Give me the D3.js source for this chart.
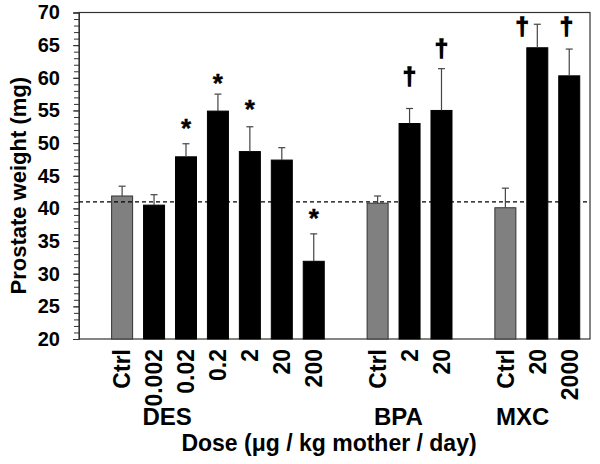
<!DOCTYPE html>
<html>
<head>
<meta charset="utf-8">
<script src="https://cdn.jsdelivr.net/npm/d3@7"></script>
<style>
  html, body { margin: 0; padding: 0; background: #fff; }
  svg { display: block; font-family: "Liberation Sans", Arial, sans-serif; font-weight: bold; }
</style>
</head>
<body>
<svg id="chart" width="600" height="464"></svg>
<script>
// ---- data ----
const groups = ["DES", "BPA", "MXC"];
const doseLabels = ["Ctrl", "0.002", "0.02", "0.2", "2", "20", "200", "Ctrl", "2", "20", "Ctrl", "20", "2000"];
const doseGroup = ["DES", "DES", "DES", "DES", "DES", "DES", "DES", "BPA", "BPA", "BPA", "MXC", "MXC", "MXC"];
const isControl = [true, false, false, false, false, false, false, true, false, false, true, false, false];
const meanWeight = [41.9, 40.5, 47.9, 54.9, 48.7, 47.4, 31.9, 40.8, 53.0, 55.0, 40.1, 64.6, 60.3];
const errorUpper = [1.5, 1.6, 2.0, 2.6, 3.8, 1.9, 4.2, 1.1, 2.3, 6.4, 3.0, 3.6, 4.1];
const markText = ["", "", "*", "*", "*", "", "*", "", "\u2020", "\u2020", "", "\u2020", "\u2020"];
const markValue = [null, null, 53.0, 59.8, 55.8, null, 39.2, null, 59.9, 64.2, null, 67.6, 67.5];
const markSlotShift = [0, 0, 0, 0, 0, 0, 0, 0, 0, 0, 0, -0.47, -0.09];
const controlLevel = 41;
const yTicks = [20, 25, 30, 35, 40, 45, 50, 55, 60, 65, 70];
const groupLabelSlot = [1.41, 8.65, 12.54];
const axisTitleY = "Prostate weight (mg)";
const axisTitleX = "Dose (\u03bcg / kg mother / day)";

// ---- layout ----
const svg = d3.select("#chart");
const L = 79, R = 590, T = 12.5, B = 339;

// slot index: bars in order, one empty slot between groups
const slot = doseLabels.map((d, i) => i + groups.indexOf(doseGroup[i]));

const x = d3.scaleLinear().domain([-1.35, 14.65]).range([L, R]);
const y = d3.scaleLinear().domain([20, 70]).range([B, T]);
const barW = 21;

// frame
svg.append("rect")
  .attr("x", L).attr("y", T).attr("width", R - L).attr("height", B - T)
  .attr("fill", "none").attr("stroke", "#333").attr("stroke-width", 1.2);

// minor ticks
const minor = svg.append("g").attr("transform", `translate(${L},0)`)
  .call(d3.axisLeft(y).tickValues(d3.range(20, 71, 1)).tickSize(5).tickFormat(""));
minor.select(".domain").remove();
minor.selectAll("line").attr("stroke", "#333");

// major ticks with labels
const major = svg.append("g").attr("transform", `translate(${L},0)`)
  .call(d3.axisLeft(y).tickValues(yTicks).tickSize(6).tickPadding(13));
major.select(".domain").attr("stroke", "#333");
major.selectAll("line").attr("stroke", "#333");
major.selectAll("text")
  .attr("font-size", 20).attr("font-weight", "bold")
  .attr("font-family", "Liberation Sans, Arial, sans-serif").attr("fill", "#000");

// bars
svg.append("g").selectAll("rect").data(meanWeight).join("rect")
  .attr("x", (d, i) => x(slot[i]) - barW / 2)
  .attr("y", d => y(d))
  .attr("width", barW)
  .attr("height", d => y(20) - y(d))
  .attr("fill", (d, i) => isControl[i] ? "#808080" : "#000")
  .attr("stroke", (d, i) => isControl[i] ? "#333" : "#000")
  .attr("stroke-width", 1);

// error bars (upper only)
const eb = svg.append("g").attr("stroke", "#444").attr("stroke-width", 1.2);
meanWeight.forEach((m, i) => {
  const cx = x(slot[i]);
  eb.append("line").attr("x1", cx).attr("x2", cx).attr("y1", y(m)).attr("y2", y(m + errorUpper[i]));
  eb.append("line").attr("x1", cx - 3.5).attr("x2", cx + 3.5)
    .attr("y1", y(m + errorUpper[i])).attr("y2", y(m + errorUpper[i]));
});

// control reference line
svg.append("line")
  .attr("x1", L).attr("x2", R).attr("y1", y(controlLevel)).attr("y2", y(controlLevel))
  .attr("stroke", "#000").attr("stroke-width", 1.3).attr("stroke-dasharray", "4,3");

// significance marks
markText.forEach((t, i) => {
  if (!t) return;
  const isStar = t === "*";
  svg.append("text")
    .attr("x", x(slot[i] + markSlotShift[i]))
    .attr("y", y(markValue[i]) + (isStar ? 13 : 6.5))
    .attr("text-anchor", "middle")
    .attr("font-size", isStar ? 26 : 24)
    .attr("font-weight", "bold")
    .attr("stroke", "#000")
    .attr("stroke-width", isStar ? 0.4 : 1.3)
    .text(t);
});

// dose tick labels (rotated)
doseLabels.forEach((t, i) => {
  svg.append("text")
    .attr("transform", `translate(${x(slot[i])},349) rotate(-90)`)
    .attr("text-anchor", "end")
    .attr("dy", "0.36em")
    .attr("font-size", 23)
    .attr("font-weight", "bold")
    .text(t);
});

// group labels
groups.forEach((g, k) => {
  svg.append("text")
    .attr("x", x(groupLabelSlot[k])).attr("y", 425)
    .attr("text-anchor", "middle").attr("font-size", 24).attr("font-weight", "bold")
    .text(g);
});

// axis titles
svg.append("text")
  .attr("x", 329).attr("y", 451)
  .attr("text-anchor", "middle").attr("font-size", 23).attr("font-weight", "bold")
  .text(axisTitleX);

svg.append("text")
  .attr("transform", `translate(26,${(T + B) / 2 + 10}) rotate(-90)`)
  .attr("text-anchor", "middle").attr("font-size", 22).attr("font-weight", "bold")
  .text(axisTitleY);
</script>
</body>
</html>
